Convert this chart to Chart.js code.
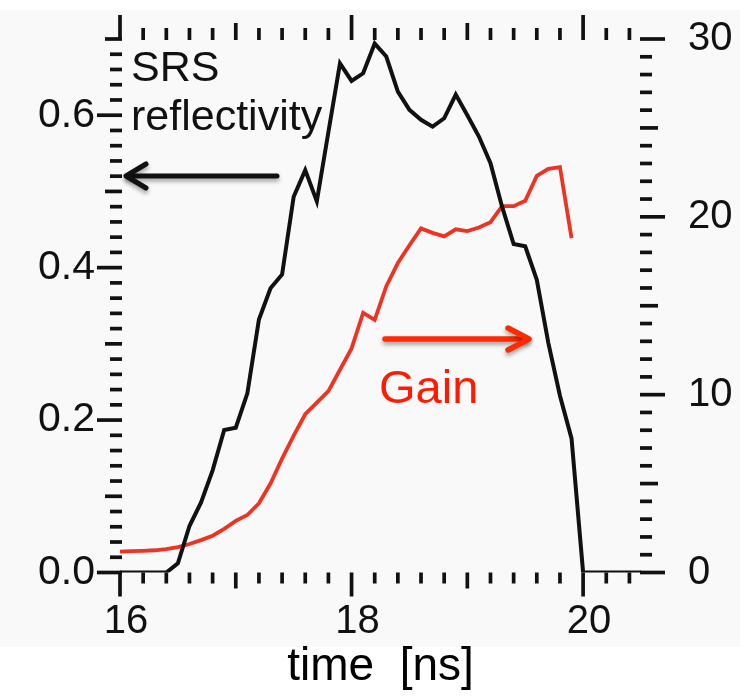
<!DOCTYPE html>
<html><head><meta charset="utf-8">
<script src="https://cdn.jsdelivr.net/npm/chart.js@4.4.0/dist/chart.umd.min.js"></script>
<style>html,body{margin:0;padding:0;background:#fff;}canvas{display:block;}</style>
</head><body>
<canvas id="c" width="740" height="698"></canvas>
<script>
// ---- data ----
const timeNs = [16.0,16.1,16.2,16.3,16.4,16.5,16.6,16.7,16.8,16.9,
                17.0,17.1,17.2,17.3,17.4,17.5,17.6,17.7,17.8,17.9,
                18.0,18.1,18.2,18.3,18.4,18.5,18.6,18.7,18.8,18.9,
                19.0,19.1,19.2,19.3,19.4,19.5,19.6,19.7,19.8,19.9,
                20.0,20.1,20.2,20.3,20.4,20.5];
const srsReflectivity = [0,0,0,0,0,0.012,0.061,0.092,0.134,0.187,
                0.190,0.235,0.332,0.373,0.391,0.493,0.528,0.487,0.578,0.668,
                0.645,0.655,0.694,0.677,0.631,0.607,0.594,0.585,0.596,0.627,
                0.600,0.572,0.537,0.480,0.431,0.428,0.384,0.301,0.232,0.176,
                0,0,0,0,0,0];
const gainTime = [16.0,16.1,16.2,16.3,16.4,16.5,16.6,16.7,16.8,16.9,
                17.0,17.1,17.2,17.3,17.4,17.5,17.6,17.7,17.8,17.9,
                18.0,18.1,18.2,18.3,18.4,18.5,18.6,18.7,18.8,18.9,
                19.0,19.1,19.2,19.3,19.4,19.5,19.6,19.7,19.8,19.9];
const gainValues = [1.17,1.20,1.22,1.25,1.32,1.43,1.60,1.82,2.07,2.45,
                2.90,3.23,3.89,5.00,6.40,7.70,8.90,9.55,10.20,11.40,
                12.60,14.60,14.20,16.10,17.40,18.40,19.35,19.10,18.90,19.30,
                19.20,19.40,19.70,20.60,20.60,20.90,22.30,22.70,22.80,18.80];
const xTickLabels = [16,18,20];
const leftTickLabels = [0,0.2,0.4,0.6];
const rightTickLabels = [0,10,20,30];
const seriesNames = ['SRS reflectivity','Gain'];

const FONT = "'Liberation Sans', Arial, Helvetica, sans-serif";

const bgPlugin = {
  id:'bg',
  beforeDraw(chart){
    const {ctx, width, height} = chart;
    ctx.save();
    ctx.fillStyle='#ffffff'; ctx.fillRect(0,0,width,height);
    ctx.fillStyle='#f9f9f9'; ctx.fillRect(0,10,width,637);
    ctx.restore();
  }
};

const tickPlugin = {
  id:'tickMarks',
  afterDraw(chart){
    const {ctx, chartArea:a, scales} = chart;
    const xs = scales.x, yl = scales.y, yr = scales.y2;
    ctx.save();
    ctx.strokeStyle='#111'; ctx.lineWidth=3.7; ctx.lineCap='butt';
    const seg=(x1,y1,x2,y2)=>{ctx.beginPath();ctx.moveTo(x1,y1);ctx.lineTo(x2,y2);ctx.stroke();};
    for(let i=0;i<=22;i++){
      const px = xs.getPixelForValue(16+i/5);
      const k = i%10===0?2:(i%5===0?1:0);
      seg(px,a.bottom,px,a.bottom+[11,16,24][k]);
      seg(px,a.top+1,px,a.top+1-[12,17,25][k]);
    }
    for(let j=0;j<=35;j++){
      const py = yl.getPixelForValue(j*0.02);
      const k = j%10===0?2:(j%5===0?1:0);
      seg(a.left+2,py,a.left+2-[12,17,25][k],py);
    }
    for(let j=0;j<=30;j++){
      const py = yr.getPixelForValue(j);
      const k = j%10===0?2:(j%5===0?1:0);
      seg(a.right-1,py,a.right-1+[12,18,25][k],py);
    }
    ctx.restore();
  }
};

function arrow(ctx,x1,y,x2,head,half,color,width){
  const dir = Math.sign(x2-x1);
  ctx.strokeStyle=color; ctx.lineWidth=width; ctx.lineCap='round'; ctx.lineJoin='round';
  ctx.beginPath(); ctx.moveTo(x1,y); ctx.lineTo(x2-dir*2,y); ctx.stroke();
  ctx.beginPath(); ctx.moveTo(x2-dir*head,y-half); ctx.lineTo(x2,y); ctx.lineTo(x2-dir*head,y+half); ctx.stroke();
}

const annotPlugin = {
  id:'annot',
  afterDatasetsDraw(chart){
    const {ctx} = chart;
    ctx.save();
    ctx.textBaseline='alphabetic'; ctx.textAlign='left';
    ctx.fillStyle='#111'; ctx.font='43px '+FONT;
    ctx.fillText('SRS',131,81);
    ctx.fillText('reflectivity',131,130);
    ctx.fillStyle='#ff1a00'; ctx.font='47px '+FONT;
    ctx.fillText('Gain',379,403);
    ctx.shadowColor='rgba(0,0,0,0.35)'; ctx.shadowBlur=4; ctx.shadowOffsetY=3;
    arrow(ctx,277,176,126,20,12,'#111',5);
    arrow(ctx,385,339,529,21,11,'#ff2a00',5.5);
    ctx.restore();
  }
};

const noPad = s => { s.paddingTop=0; s.paddingBottom=0; s.paddingLeft=0; s.paddingRight=0; };

new Chart(document.getElementById('c'),{
  type:'line',
  data:{
    datasets:[
      {label:seriesNames[0], data:timeNs.map((t,i)=>({x:t,y:srsReflectivity[i]})),
       borderColor:'#111', borderWidth:4, pointRadius:0, tension:0, yAxisID:'y'},
      {label:seriesNames[1], data:gainTime.map((t,i)=>({x:t,y:gainValues[i]})),
       borderColor:'#ee3322', borderWidth:3.8, pointRadius:0, tension:0, yAxisID:'y2'}
    ]
  },
  options:{
    responsive:false, animation:false,
    layout:{padding:{top:39,left:0,right:0,bottom:0}},
    plugins:{legend:{display:false}, tooltip:{enabled:false}},
    scales:{
      x:{type:'linear', position:'bottom', min:16, max:20.5,
         afterBuildTicks:s=>{s.ticks = xTickLabels.map(v=>({value:v}));},
         afterFit:s=>{s.height=125.5; noPad(s);},
         grid:{display:false, drawTicks:false}, border:{display:false},
         ticks:{font:{family:FONT,size:40}, color:'#111', padding:25, labelOffset:6,
                maxRotation:0, autoSkip:false, callback:v=>String(v)},
         title:{display:true, text:'time  [ns]', color:'#000',
                font:{family:FONT,size:46}, padding:{top:0,bottom:3}}},
      y:{type:'linear', position:'left', min:0, max:0.7,
         afterBuildTicks:s=>{s.ticks = leftTickLabels.map(v=>({value:v}));},
         afterFit:s=>{s.width=120; noPad(s);},
         grid:{display:false, drawTicks:false}, border:{display:false},
         ticks:{font:{family:FONT,size:41}, color:'#111', padding:25, callback:v=>v.toFixed(1)}},
      y2:{type:'linear', position:'right', min:0, max:30,
         afterBuildTicks:s=>{s.ticks = rightTickLabels.map(v=>({value:v}));},
         afterFit:s=>{s.width=99; noPad(s);},
         grid:{display:false, drawTicks:false}, border:{display:false},
         ticks:{font:{family:FONT,size:40}, color:'#111', padding:47, callback:v=>String(v)}}
    }
  },
  plugins:[bgPlugin,tickPlugin,annotPlugin]
});
</script>
</body></html>
